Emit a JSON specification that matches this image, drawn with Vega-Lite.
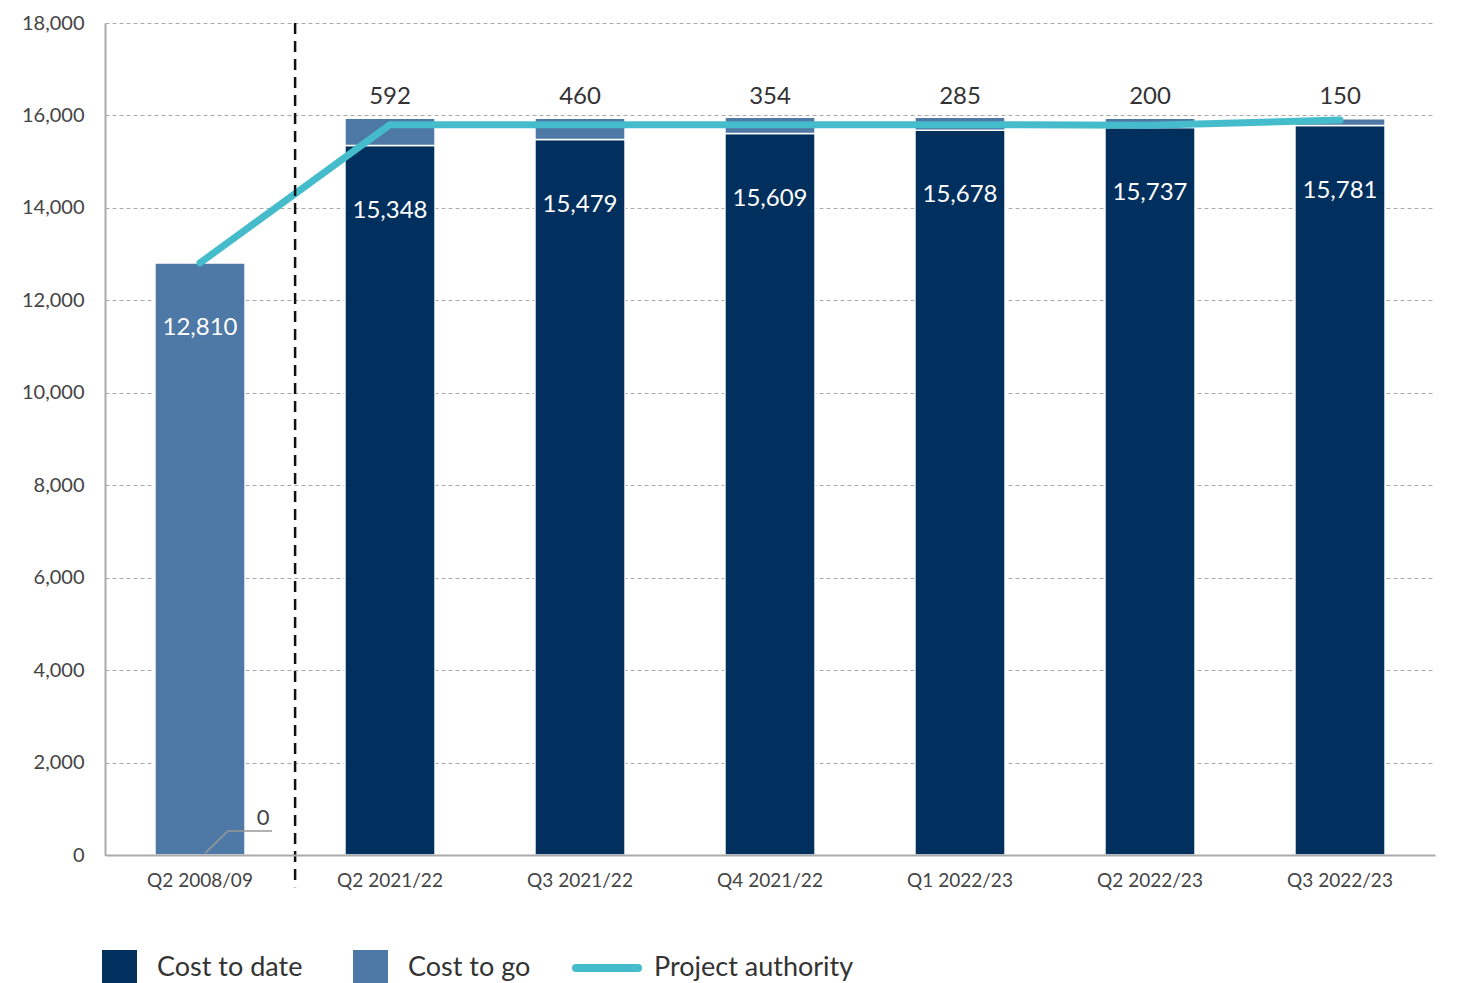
{
  "$schema": "https://vega.github.io/schema/vega-lite/v6.json",
  "width": 1330,
  "height": 832,
  "autosize": {"type": "none"},
  "padding": {"left": 105, "top": 23, "right": 23, "bottom": 128},
  "background": "white",
  "config": {"font": "Lato", "view": {"stroke": null}},
  "datasets": {
    "main": [
      {"period": "Q2 2008/09", "Cost to date": 0, "Cost to go": 12810, "inside": 12810, "authority": 12810},
      {"period": "Q2 2021/22", "Cost to date": 15348, "Cost to go": 592, "inside": 15348, "authority": 15800},
      {"period": "Q3 2021/22", "Cost to date": 15479, "Cost to go": 460, "inside": 15479, "authority": 15800},
      {"period": "Q4 2021/22", "Cost to date": 15609, "Cost to go": 354, "inside": 15609, "authority": 15800},
      {"period": "Q1 2022/23", "Cost to date": 15678, "Cost to go": 285, "inside": 15678, "authority": 15800},
      {"period": "Q2 2022/23", "Cost to date": 15737, "Cost to go": 200, "inside": 15737, "authority": 15790},
      {"period": "Q3 2022/23", "Cost to date": 15781, "Cost to go": 150, "inside": 15781, "authority": 15900}
    ]
  },
  "layer": [
    {
      "data": {"name": "main"},
      "transform": [
        {"fold": ["Cost to date", "Cost to go"], "as": ["series", "cost"]},
        {"filter": "datum.cost > 0"}
      ],
      "mark": {"type": "bar", "stroke": "white", "strokeWidth": 1.5},
      "encoding": {
        "x": {
          "field": "period", "type": "nominal", "sort": null,
          "scale": {"paddingInner": 0.526, "paddingOuter": 0.263},
          "axis": {"title": null, "labelAngle": 0, "labelFontSize": 19, "labelColor": "#444", "labelPadding": 16, "ticks": false, "domainColor": "#aaa", "domainWidth": 2, "zindex": 1}
        },
        "y": {
          "field": "cost", "type": "quantitative", "stack": "zero",
          "scale": {"domain": [0, 18000]},
          "axis": {"title": null, "values": [0, 2000, 4000, 6000, 8000, 10000, 12000, 14000, 16000, 18000], "format": ",.0f", "labelFontSize": 20, "labelColor": "#444", "labelPadding": 21, "ticks": false, "domainColor": "#aaa", "domainWidth": 2, "gridColor": "#aaa", "gridDash": [4, 3], "gridWidth": 1}
        },
        "color": {
          "field": "series", "type": "nominal",
          "scale": {"domain": ["Cost to date", "Cost to go"], "range": ["#012f5e", "#4e78a5"]},
          "legend": {
            "title": null, "orient": "none", "legendX": -3, "legendY": 927, "direction": "horizontal",
            "labelFont": "Lato", "labelFontSize": 27, "labelColor": "#333", "labelLimit": 400, "symbolSize": 1225, "symbolType": "square",
            "columnPadding": 50, "labelOffset": 20, "symbolStrokeWidth": 0
          }
        },
        "order": {"field": "series"}
      }
    },
    {
      "data": {"name": "main"},
      "mark": {"type": "line", "strokeWidth": 7, "strokeCap": "round", "strokeJoin": "round"},
      "encoding": {
        "x": {"field": "period", "type": "nominal", "sort": null},
        "y": {"field": "authority", "type": "quantitative"},
        "stroke": {
          "datum": "Project authority",
          "scale": {"domain": ["Project authority"], "range": ["#45bccb"]},
          "legend": {
            "title": null, "orient": "none", "legendX": 467, "legendY": 910,
            "labelFont": "Lato", "labelFontSize": 27, "labelColor": "#333", "labelLimit": 400,
            "symbolType": "stroke", "symbolSize": 3844, "symbolStrokeWidth": 8, "labelOffset": 12,
            "encode": {"symbols": {"update": {"strokeCap": {"value": "round"}}}}
          }
        }
      }
    },
    {
      "data": {"name": "main"},
      "mark": {"type": "text", "color": "white", "fontSize": 24, "dy": 65, "baseline": "middle"},
      "encoding": {
        "x": {"field": "period", "type": "nominal", "sort": null},
        "y": {"field": "inside", "type": "quantitative"},
        "text": {"field": "inside", "type": "quantitative", "format": ","}
      }
    },
    {
      "data": {"name": "main"},
      "transform": [{"filter": "datum.period !== 'Q2 2008/09'"}],
      "mark": {"type": "text", "color": "#333", "fontSize": 24, "baseline": "middle"},
      "encoding": {
        "x": {"field": "period", "type": "nominal", "sort": null},
        "y": {"datum": 16400, "type": "quantitative"},
        "text": {"field": "Cost to go", "type": "quantitative", "format": ","}
      }
    },
    {
      "data": {"name": "main"},
      "transform": [{"filter": "datum.period === 'Q2 2008/09'"}],
      "mark": {"type": "text", "color": "#444", "fontSize": 22, "baseline": "middle"},
      "encoding": {
        "x": {"field": "period", "type": "nominal", "sort": null, "bandPosition": 1.2},
        "y": {"datum": 800, "type": "quantitative"},
        "text": {"field": "Cost to date", "type": "quantitative"}
      }
    },
    {
      "data": {"name": "main"},
      "transform": [{"filter": "datum.period === 'Q2 2008/09'"}],
      "mark": {"type": "rule", "color": "#999", "strokeWidth": 1.5},
      "encoding": {
        "x": {"field": "period", "type": "nominal", "sort": null, "bandPosition": 0.556},
        "x2": {"field": "period", "bandPosition": 0.81},
        "y": {"datum": 40, "type": "quantitative"},
        "y2": {"datum": 520}
      }
    },
    {
      "data": {"name": "main"},
      "transform": [{"filter": "datum.period === 'Q2 2008/09'"}],
      "mark": {"type": "rule", "color": "#999", "strokeWidth": 1.5},
      "encoding": {
        "x": {"field": "period", "type": "nominal", "sort": null, "bandPosition": 0.81},
        "x2": {"field": "period", "bandPosition": 1.3},
        "y": {"datum": 520, "type": "quantitative"}
      }
    },
    {
      "data": {"name": "main"},
      "transform": [{"filter": "datum.period === 'Q2 2008/09'"}],
      "mark": {"type": "rule", "color": "#111", "strokeWidth": 2.5, "strokeDash": [11, 7]},
      "encoding": {
        "x": {"field": "period", "type": "nominal", "sort": null, "bandPosition": 1.556},
        "y": {"datum": 18000, "type": "quantitative"},
        "y2": {"datum": -700}
      }
    }
  ]
}
